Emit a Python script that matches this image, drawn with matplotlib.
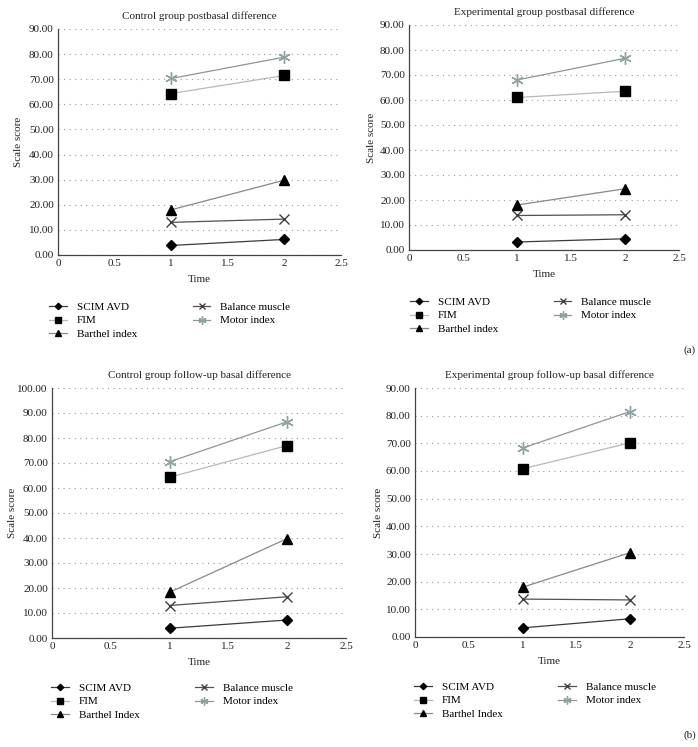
import matplotlib
matplotlib.use("Agg")
import matplotlib.pyplot as plt
from matplotlib.lines import Line2D

plt.rcParams['font.family'] = ['Liberation Serif', 'DejaVu Serif']

time = [1, 2]
series_names_a = ["SCIM AVD", "FIM", "Barthel index", "Balance muscle", "Motor index"]
series_names_b = ["SCIM AVD", "FIM", "Barthel Index", "Balance muscle", "Motor index"]

titles = ["Control group postbasal difference",
          "Experimental group postbasal difference",
          "Control group follow-up basal difference",
          "Experimental group follow-up basal difference"]

# values per panel: SCIM, FIM, Barthel, Balance, Motor
ctrl_post = [[3.8, 6.2], [64.3, 71.5], [18.0, 29.8], [13.0, 14.3], [70.3, 78.8]]
exp_post = [[3.2, 4.5], [61.0, 63.5], [18.0, 24.5], [13.8, 14.1], [68.0, 76.7]]
ctrl_fu = [[3.9, 7.2], [64.3, 77.0], [18.3, 39.8], [13.0, 16.5], [70.5, 86.5]]
exp_fu = [[3.3, 6.6], [60.8, 70.2], [18.0, 30.5], [13.7, 13.4], [68.3, 81.5]]

ymaxes = [90, 90, 100, 90]
xticks = [0, 0.5, 1, 1.5, 2, 2.5]

W, H = 698, 747
fig = plt.figure(figsize=(W / 100, H / 100), dpi=100)

def ax_px(l, r, t, b):
    return fig.add_axes([l / W, 1 - b / H, (r - l) / W, (b - t) / H])

boxes = [(58, 341, 29, 255), (409, 679, 25, 250), (52, 346, 388, 638), (415, 684, 388, 637)]
datas = [ctrl_post, exp_post, ctrl_fu, exp_fu]
ylabelpads = [4, 3, 0.5, 2]

styles = [
    dict(color='#3a3a3a', marker='D', mfc='black', mec='black', ms=5.0),
    dict(color='#b8b8b8', marker='s', mfc='black', mec='black', ms=7.5),
    dict(color='#888888', marker='^', mfc='black', mec='black', ms=7.5),
    dict(color='#505050', marker='x', mfc='none', mec='#404040', ms=7.5, mew=1.0),
    dict(color='#8c9696', marker=(6, 2, 0), mfc='none', mec='#8fa3a3', ms=9, mew=1.0),
]

for i, (box, data, ymax, title) in enumerate(zip(boxes, datas, ymaxes, titles)):
    ax = ax_px(*box)
    for s, vals in zip(styles, data):
        ax.plot(time, vals, lw=0.9, **s)
    ax.set_xlim(0, 2.5)
    ax.set_ylim(0, ymax)
    ax.set_xticks(xticks)
    ax.set_xticklabels(["0", "0.5", "1", "1.5", "2", "2.5"])
    ax.set_yticks(range(0, ymax + 1, 10))
    ax.set_yticklabels([f"{v:.2f}" for v in range(0, ymax + 1, 10)])
    ax.tick_params(labelsize=8, length=0, pad=3, colors='#222222')
    ax.yaxis.grid(True, linestyle=(0, (1, 4)), color='#999999', lw=0.8)
    ax.set_axisbelow(True)
    for sp in ['top', 'right']:
        ax.spines[sp].set_visible(False)
    for sp in ['left', 'bottom']:
        ax.spines[sp].set_color('#444444')
        ax.spines[sp].set_linewidth(0.9)
    ax.set_title(title, fontsize=8, pad=7, color='#222222')
    ax.set_xlabel("Time", fontsize=8, labelpad=5, color='#222222')
    ax.set_ylabel("Scale score", fontsize=8, labelpad=ylabelpads[i], color='#222222')

    names = series_names_a if i < 2 else series_names_b
    handles = []
    for s in styles:
        s2 = dict(s)
        s2['ms'] = s['ms'] * 0.65
        handles.append(Line2D([0], [0], lw=0.9, **s2))
    leg_x = [(49, 302), (410, 297), (51, 683), (414, 682)][i]
    fig.legend(handles, names, ncol=2, loc='upper left',
               bbox_to_anchor=(leg_x[0] / W, 1 - leg_x[1] / H),
               frameon=False, fontsize=8, handlelength=1.6,
               handletextpad=0.9, columnspacing=5.0, labelspacing=0.35,
               borderaxespad=0, borderpad=0)

fig.text(690 / W, 1 - 350 / H, "(a)", fontsize=8, ha='center', va='center', color='#222222')
fig.text(690 / W, 1 - 735 / H, "(b)", fontsize=8, ha='center', va='center', color='#222222')

fig.savefig("out.png", dpi=100)
